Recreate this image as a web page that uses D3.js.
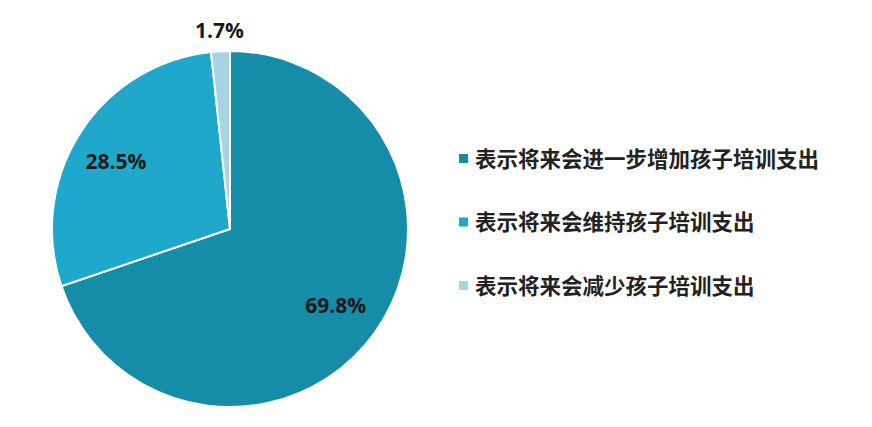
<!DOCTYPE html>
<html>
<head>
<meta charset="utf-8">
<script src="https://cdn.jsdelivr.net/npm/d3@7"></script>
<style>
  body { margin: 0; background: #fff; }
</style>
</head>
<body>
<div id="chart"></div>
<script>
const categories = ["表示将来会进一步增加孩子培训支出", "表示将来会维持孩子培训支出", "表示将来会减少孩子培训支出"];
const values = [69.8, 28.5, 1.7];
const colors = ["#168da8", "#1fa8cb", "#a5d4e4"];

const width = 872, height = 427;
const cx = 230, cy = 229, radius = 178;

const svg = d3.select("#chart").append("svg")
  .attr("width", width).attr("height", height);

const pie = d3.pie().sort(null).value(d => d);
const arcs = pie(values);
const arc = d3.arc().innerRadius(0).outerRadius(radius);

const g = svg.append("g").attr("transform", `translate(${cx},${cy})`);

g.selectAll("path")
  .data(arcs)
  .enter()
  .append("path")
  .attr("d", arc)
  .attr("fill", (d, i) => colors[i])
  .attr("stroke", "#fff")
  .attr("stroke-width", 2);

// label radius per slice
const labelR = [0.73, 0.76, 1.12];

g.selectAll("text.pct")
  .data(arcs)
  .enter()
  .append("text")
  .attr("class", "pct")
  .attr("transform", (d, i) => {
    const r = radius * labelR[i];
    return `translate(${d3.arc().innerRadius(r).outerRadius(r).centroid(d)})`;
  })
  .attr("dy", (d, i) => i === 1 ? 5 : 0)
  .attr("text-anchor", "middle")
  .attr("dominant-baseline", "central")
  .attr("font-family", "'Open Sans', 'Liberation Sans', sans-serif")
  .attr("font-weight", "bold")
  .attr("font-size", 21)
  .attr("fill", "#1a1a1a")
  .text(d => d.data.toFixed(1) + "%");

// legend
const ly = d3.scalePoint().domain(categories).range([157, 284]);
const legend = svg.append("g")
  .selectAll("g")
  .data(categories)
  .enter()
  .append("g")
  .attr("transform", d => `translate(459,${ly(d)})`);

legend.append("rect")
  .attr("x", 0).attr("y", -3)
  .attr("width", 9).attr("height", 9)
  .attr("fill", (d, i) => colors[i]);

legend.append("text")
  .attr("x", 16)
  .attr("dominant-baseline", "central")
  .attr("font-family", "'Noto Sans CJK SC', sans-serif")
  .attr("font-weight", "bold")
  .attr("font-size", 21.5)
  .attr("fill", "#222")
  .text(d => d);
</script>
</body>
</html>
